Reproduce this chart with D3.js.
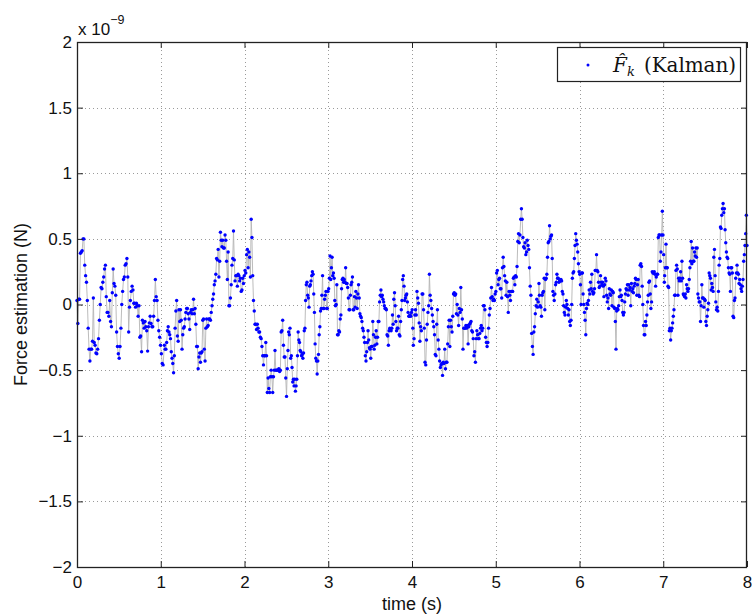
<!DOCTYPE html>
<html><head><meta charset="utf-8">
<script src="https://cdn.jsdelivr.net/npm/d3@7/dist/d3.min.js"></script>
<style>body{margin:0;background:#fff}svg{display:block}</style>
</head><body>
<svg id="chart" width="752" height="615"></svg>
<script>
// ---- data ----
const xTicks = [0, 1, 2, 3, 4, 5, 6, 7, 8];
const yTicks = [-2, -1.5, -1, -0.5, 0, 0.5, 1, 1.5, 2];
const yTickLabels = ["\u22122", "\u22121.5", "\u22121", "\u22120.5", "0", "0.5", "1", "1.5", "2"];
const xLabel = "time (s)";
const yLabel = "Force estimation (N)";
const exponentLabel = "\u22129";
// time span (s) of each stretch of readings, values in units of 1e-9 N
const segTimes = [[0, 1.028], [1.043, 2.511], [2.519, 4.01], [4.016, 5.516], [5.522, 7.013], [7.017, 8.0]];
const segA = [0.03, -0.145, 0.04, 0.04, 0.39, 0.40, 0.41, 0.50, 0.50, 0.30, 0.22, 0.17, 0.03, -0.18, -0.34, -0.43, -0.34, -0.34, -0.28, 0.05, -0.29, -0.31, -0.37, -0.375, -0.34, -0.26, -0.12, 0, 0.13, 0.12, 0.17, 0.21, 0.27, 0.30, 0.06, -0.06, -0.06, -0.09, 0.03, -0.13, -0.17, 0.09, 0.27, 0.16, 0.14, 0.07, -0.21, -0.32, -0.375, -0.41, -0.32, -0.18, 0, 0.10, 0.19, 0.21, 0.30, 0.31, 0.35, 0.21, -0.21, -0.02, 0.03, 0.10, 0.14, 0.11, 0.01, 0.01, -0.02, 0.01, -0.01, -0.09, -0.01, -0.25, -0.24, -0.36, -0.12, -0.14, -0.18, -0.13, -0.17, -0.20, -0.355, -0.17, -0.14, -0.09, -0.145, -0.17, -0.17, -0.09, 0.03, 0.19, 0.06, 0.03, -0.12, -0.20, -0.25, -0.31, -0.375, -0.45, -0.46];
const segB = [-0.31, -0.34, -0.34, -0.29, -0.20, -0.17, -0.21, -0.23, -0.26, -0.36, -0.41, -0.45, -0.52, -0.39, -0.18, -0.05, 0.03, -0.24, -0.28, -0.04, -0.13, -0.04, -0.12, -0.34, -0.23, -0.18, -0.17, -0.11, -0.06, -0.03, -0.03, -0.07, -0.11, -0.19, -0.06, -0.04, -0.07, -0.04, 0.04, -0.07, -0.03, -0.15, -0.32, -0.32, -0.49, -0.40, -0.37, -0.44, -0.37, -0.36, -0.12, -0.11, -0.34, -0.43, -0.18, -0.11, -0.17, -0.16, -0.11, -0.11, -0.12, -0.06, -0.01, 0.04, 0.08, 0.15, 0.18, 0.23, 0.35, 0.34, 0.42, 0.21, 0.33, 0.55, 0.49, 0.44, 0.49, 0.43, 0.43, 0.53, 0.49, 0.33, 0.19, 0.40, -0.01, -0.01, 0.05, 0.15, 0.30, 0.35, 0.56, 0.34, 0.18, 0.22, 0.22, 0.14, 0.23, 0.22, 0.18, 0.20, 0.10, 0.11, 0.20, 0.16, 0.22, 0.26, 0.24, 0.38, 0.42, 0.28, 0.40, 0.36, 0.21, 0.65, 0.51, 0.22, 0.03, -0.05, -0.15, -0.15, -0.19, -0.15, -0.18, -0.21, -0.21, -0.25, -0.26, -0.32, -0.39, -0.46, -0.39, -0.39, -0.29, -0.39, -0.67, -0.56, -0.64, -0.67, -0.55, -0.50, -0.55, -0.67, -0.55, -0.50, -0.35, -0.50, -0.50, -0.50, -0.50, -0.49, -0.51, -0.50, -0.21, -0.20, -0.12, -0.31, -0.40, -0.40, -0.56, -0.70, -0.49];
const segC = [-0.35, -0.21, -0.23, -0.18, -0.41, -0.39, -0.48, -0.59, -0.57, -0.62, -0.57, -0.66, -0.62, -0.57, -0.39, -0.21, -0.27, -0.29, -0.35, -0.36, -0.39, -0.38, -0.41, -0.37, -0.20, -0.18, 0.03, 0.15, 0.17, 0.07, 0.05, -0.02, 0.14, 0.15, 0.18, 0.22, 0.25, 0.23, 0.08, -0.06, -0.30, -0.41, -0.43, -0.53, -0.43, -0.38, -0.23, -0.17, -0.05, -0.03, 0.07, 0.22, -0.03, -0.03, 0.04, 0.07, 0.10, -0.03, -0.03, 0.10, 0.12, 0.20, 0.37, 0.19, 0.28, 0.36, 0.22, 0.24, 0.20, 0.03, -0.01, 0.00, 0.15, -0.23, -0.23, -0.20, -0.21, -0.11, -0.08, 0.12, 0.19, 0.20, 0.17, 0.19, 0.17, 0.28, 0.16, 0.16, 0.13, 0.05, -0.04, -0.04, 0.07, 0.15, 0.17, 0.21, -0.04, -0.04, 0.06, -0.02, 0.10, 0.05, -0.03, 0.08, 0.15, 0.05, -0.07, -0.09, -0.10, -0.13, -0.18, -0.20, -0.25, -0.29, -0.39, -0.43, -0.36, -0.29, -0.20, -0.27, -0.33, -0.34, -0.41, -0.32, -0.32, -0.13, -0.23, -0.34, -0.31, -0.25, -0.20, -0.30, -0.25, -0.13, -0.13, 0.02, 0.07, 0.11, 0.06, 0.07, 0.04, 0.02, -0.01, -0.03, -0.03, -0.04, -0.23, -0.24, -0.31, -0.20, -0.18, -0.19, -0.20, -0.18, -0.08, -0.15, 0.04, 0.09, -0.01, -0.13, -0.20, -0.18, -0.18, -0.09, -0.23, -0.24, -0.13, -0.04, 0.03, 0.19, 0.22, 0.14, 0.03, 0.05, 0.07, 0.08, 0.02, -0.06, -0.09, -0.09, -0.08, -0.09, -0.06, -0.04, -0.18];
const segD = [-0.31, -0.26, -0.08, -0.04, -0.08, 0.10, 0.05, 0.01, -0.14, -0.28, -0.17, -0.20, 0.08, 0.08, -0.04, -0.18, -0.44, -0.46, -0.27, -0.15, -0.06, -0.01, 0.23, 0.07, 0.03, -0.03, -0.08, -0.13, -0.17, -0.23, -0.38, -0.39, -0.15, -0.04, -0.27, -0.34, -0.43, -0.48, -0.46, -0.45, -0.54, -0.44, -0.45, -0.34, -0.49, -0.44, -0.44, -0.30, -0.17, -0.12, -0.32, -0.12, -0.17, -0.21, -0.09, 0.08, 0.09, 0.07, 0.08, -0.07, 0.00, -0.08, -0.16, -0.03, -0.06, 0.13, -0.04, -0.11, -0.34, -0.18, -0.18, -0.18, -0.16, -0.18, -0.16, -0.30, -0.17, -0.15, -0.14, -0.13, -0.20, -0.21, -0.26, -0.39, -0.36, -0.44, -0.26, -0.20, -0.23, -0.26, -0.26, -0.22, -0.18, -0.16, -0.20, -0.18, -0.01, -0.01, -0.04, -0.25, -0.29, -0.32, -0.29, -0.18, -0.08, -0.03, 0.05, 0.13, 0.06, 0.03, 0.04, 0.03, 0.08, 0.10, 0.24, 0.26, 0.15, 0.19, 0.20, 0.12, 0.12, 0.05, 0.28, 0.36, 0.29, 0.22, 0.18, 0.07, 0.17, 0.06, -0.06, 0.10, 0.07, 0.03, 0.10, 0.10, 0.10, 0.20, 0.21, 0.15, 0.22, 0.21, 0.29, 0.48, 0.54, 0.47, 0.53, 0.65, 0.73, 0.65, 0.51, 0.44, 0.43, 0.47, 0.38, 0.40, 0.49, 0.45, 0.42, 0.28, 0.14, 0.07, -0.22, -0.32, -0.38, -0.21, -0.17, -0.07, -0.01, 0.04, -0.02, 0.02, 0.16];
const segE = [0.07, -0.01, -0.02, -0.09, 0.07, 0.09, 0.10, 0.20, -0.04, 0.19, 0.20, 0.23, 0.36, 0.47, 0.48, 0.60, 0.50, 0.52, 0.53, 0.35, 0.10, 0.07, 0.03, 0.08, 0.15, 0.17, 0.23, 0.20, 0.20, 0.17, 0.18, 0.18, 0.19, 0.18, 0.10, 0.08, -0.01, -0.06, -0.08, -0.02, 0.03, 0.00, -0.03, -0.08, -0.04, -0.13, -0.16, -0.12, 0.00, 0.20, 0.24, 0.25, 0.35, 0.45, 0.54, 0.49, 0.46, 0.40, 0.31, 0.25, 0.23, 0.15, 0.00, 0.24, 0.24, 0.08, 0.00, -0.06, -0.12, -0.23, -0.03, 0.01, 0.00, 0.03, 0.11, 0.08, 0.17, 0.12, 0.23, 0.10, 0.08, 0.09, 0.12, 0.26, 0.26, 0.38, 0.26, 0.25, 0.17, 0.13, 0.14, 0.22, 0.17, 0.15, 0.17, 0.14, 0.06, 0.15, 0.20, 0.18, 0.07, 0.02, 0.05, -0.03, 0.12, 0.08, 0.07, 0.11, -0.01, 0.10, 0.09, -0.02, -0.03, -0.13, -0.34, -0.05, -0.03, -0.04, -0.01, 0.06, 0.11, 0.06, 0.07, 0.03, -0.06, -0.08, -0.06, 0.02, 0.08, 0.12, 0.11, 0.15, 0.07, 0.15, 0.11, 0.13, -0.01, 0.16, 0.10, 0.12, 0.09, 0.14, 0.16, 0.20, 0.19, 0.07, 0.15, 0.19, 0.07, 0.06, 0.30, 0.31, 0.29, 0.14, 0.00, -0.16, -0.23, -0.23, -0.13, -0.16, -0.08, 0.02, 0.07, 0.17, 0.18, 0.08, -0.03, 0.02, 0.25, 0.24, 0.24, 0.25, 0.23, 0.14, 0.21, 0.23, 0.23, 0.51, 0.53, 0.53, 0.33, 0.40, 0.53, 0.71, 0.53, 0.38, 0.17];
const segF = [0.22, 0.28, 0.46, 0.28, 0.28, 0.14, 0.13, -0.20, -0.18, -0.27, -0.20, -0.18, -0.14, -0.09, -0.04, 0.07, 0.07, 0.26, 0.30, 0.27, 0.07, 0.20, 0.18, 0.20, 0.25, 0.18, 0.33, 0.20, 0.08, 0.07, 0.06, 0.08, 0.05, 0.15, 0.12, 0.10, 0.12, 0.19, 0.28, 0.33, 0.48, 0.31, 0.43, 0.33, 0.33, 0.40, 0.37, 0.43, 0.36, 0.43, 0.08, 0.05, 0.02, 0.02, -0.13, -0.01, 0.15, 0.05, 0.05, -0.02, 0.04, 0.03, -0.13, -0.16, -0.09, -0.04, 0.01, 0.24, 0.22, 0.20, 0.11, 0.16, 0.13, 0.10, 0.36, 0.42, 0.22, 0.02, -0.04, -0.02, -0.05, 0.10, 0.30, 0.35, 0.59, 0.58, 0.68, 0.73, 0.77, 0.70, 0.73, 0.57, 0.47, 0.40, 0.36, 0.35, 0.28, 0.24, 0.23, 0.10, 0.28, 0.28, 0.24, -0.09, -0.10, 0.03, 0.05, 0.20, 0.24, 0.30, 0.24, 0.23, 0.16, 0.19, 0.15, 0.12, 0.10, 0.14, 0.19, 0.33, 0.38, 0.45, 0.54, 0.68, 0.45];
const segments = [segA, segB, segC, segD, segE, segF];
const legendSymbol = "F\u0302";
const legendSub = "k";
const legendRest = "(Kalman)";

// ---- build the series ----
const points = [];
segments.forEach((vals, s) => {
  const [t0, t1] = segTimes[s];
  const n = vals.length;
  vals.forEach((v, i) => points.push({t: t0 + (t1 - t0) * (n > 1 ? i / (n - 1) : 0), v}));
});

// ---- layout ----
const svg = d3.select("#chart");
const L = 77, R = 747, T = 42, B = 567;
const x = d3.scaleLinear().domain([0, 8]).range([L, R]);
const y = d3.scaleLinear().domain([-2, 2]).range([B, T]);
const font = "'Liberation Sans', Arial, Helvetica, sans-serif";
const serif = "'DejaVu Serif', 'Liberation Serif', serif";
const fs = 17;

svg.append("rect").attr("width", 752).attr("height", 615).attr("fill", "#fff");

// grid
const grid = svg.append("g").attr("stroke", "#9a9a9a").attr("stroke-width", 1)
  .attr("stroke-dasharray", "1,3");
grid.selectAll("line.gx").data(xTicks.filter(d => d > 0 && d < 8)).join("line")
  .attr("x1", d => Math.round(x(d)) + 0.5).attr("x2", d => Math.round(x(d)) + 0.5)
  .attr("y1", T).attr("y2", B);
grid.selectAll("line.gy").data(yTicks.filter(d => d > -2 && d < 2)).join("line")
  .attr("y1", d => Math.round(y(d)) + 0.5).attr("y2", d => Math.round(y(d)) + 0.5)
  .attr("x1", L).attr("x2", R);

// series line + markers
const line = d3.line().x(d => x(d.t)).y(d => y(d.v));
svg.append("path").datum(points).attr("d", line)
  .attr("fill", "none").attr("stroke", "#b4b4b4").attr("stroke-width", 0.9);
svg.append("g").selectAll("circle").data(points).join("circle")
  .attr("cx", d => x(d.t)).attr("cy", d => y(d.v)).attr("r", 1.7).attr("fill", "#0000ff");

// axes
function styleAxis(g) {
  g.attr("font-family", font).attr("font-size", fs);
  g.select(".domain").remove();
  g.selectAll(".tick line").attr("stroke", "#222").attr("stroke-width", 1);
  g.selectAll(".tick text").attr("fill", "#111");
}
svg.append("g").attr("transform", `translate(0,${B})`)
  .call(d3.axisBottom(x).tickValues(xTicks).tickFormat(d3.format("d")).tickSizeInner(-6).tickSizeOuter(0).tickPadding(9))
  .call(styleAxis);
svg.append("g").attr("transform", `translate(0,${T})`)
  .call(d3.axisTop(x).tickValues(xTicks).tickFormat("").tickSizeInner(-6).tickSizeOuter(0))
  .call(styleAxis);
svg.append("g").attr("transform", `translate(${L},0)`)
  .call(d3.axisLeft(y).tickValues(yTicks).tickFormat((d, i) => yTickLabels[i]).tickSizeInner(-6).tickSizeOuter(0).tickPadding(5))
  .call(styleAxis);
svg.append("g").attr("transform", `translate(${R},0)`)
  .call(d3.axisRight(y).tickValues(yTicks).tickFormat("").tickSizeInner(-6).tickSizeOuter(0))
  .call(styleAxis);

// box
svg.append("rect").attr("x", L + 0.5).attr("y", T + 0.5).attr("width", R - L - 1).attr("height", B - T)
  .attr("fill", "none").attr("stroke", "#222").attr("stroke-width", 1.3);

// exponent
const ex = svg.append("text").attr("x", 78).attr("y", 35).attr("font-family", font)
  .attr("font-size", fs).attr("fill", "#111");
ex.append("tspan").text("x 10");
ex.append("tspan").attr("dy", -11).attr("font-size", 12.5).text(exponentLabel);

// axis labels
svg.append("text").attr("x", (L + R) / 2).attr("y", 610).attr("text-anchor", "middle")
  .attr("font-family", font).attr("font-size", 18).attr("fill", "#111").text(xLabel);
svg.append("text").attr("transform", `translate(27,${y(0)}) rotate(-90)`).attr("text-anchor", "middle")
  .attr("font-family", font).attr("font-size", 18).attr("fill", "#111").text(yLabel);

// legend
const lg = svg.append("g");
lg.append("rect").attr("x", 557.5).attr("y", 47.5).attr("width", 183).attr("height", 34)
  .attr("fill", "#fff").attr("stroke", "#222").attr("stroke-width", 1.2);
lg.append("circle").attr("cx", 588).attr("cy", 65).attr("r", 1.5).attr("fill", "#0000ff");
const lt = lg.append("text").attr("x", 613).attr("y", 72)
  .attr("font-family", serif).attr("font-size", 20).attr("fill", "#111");
lt.append("tspan").attr("font-style", "italic").text(legendSymbol);
lt.append("tspan").attr("font-style", "italic").attr("font-size", 13).attr("dy", 4).text(legendSub);
lg.append("text").attr("x", 644).attr("y", 72).attr("textLength", 92)
  .attr("font-family", serif).attr("font-size", 20).attr("fill", "#111").text(legendRest);
</script>
</body></html>
